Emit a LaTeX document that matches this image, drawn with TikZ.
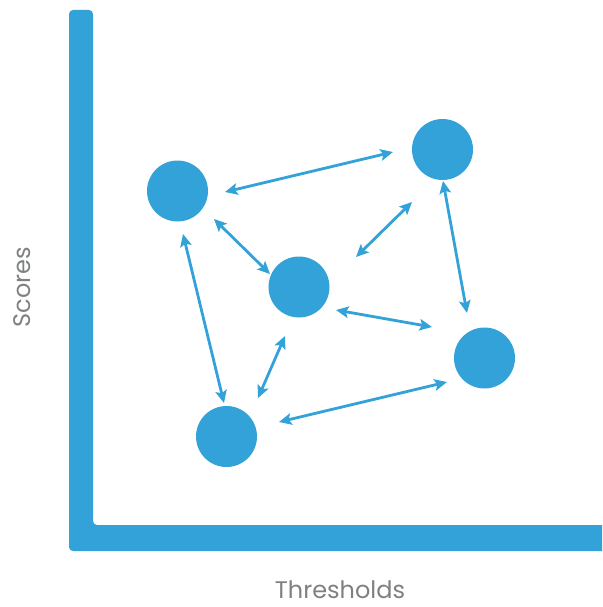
\documentclass[tikz,border=0pt]{standalone}
\usepackage{fontspec}
\setmainfont{Poppins}
\usetikzlibrary{arrows.meta,calc}
\definecolor{sblue}{HTML}{33A2D8}
\definecolor{lgray}{HTML}{7E8180}
\begin{document}
\begin{tikzpicture}[x=1pt,y=-1pt,
  dot/.style={circle,fill=sblue,minimum size=61pt,inner sep=0pt},
  arr/.style={draw=sblue,line width=2.8pt,{Stealth[length=12.5pt,width=11.5pt,inset=2.5pt]}-{Stealth[length=12.5pt,width=11.5pt,inset=2.5pt]}},
  lbl/.style={text=lgray,font=\fontsize{24}{28}\selectfont,inner sep=0pt}]
\useasboundingbox (0,0) rectangle (602,607);
\clip (0,0) rectangle (602,607);
% axes
\fill[sblue,rounded corners=4pt] (69,10) -- (93,10) -- (93,525) -- (620,525) -- (620,551) -- (69,551) -- cycle;
% nodes
\node[dot] (A) at (177.5,191) {};
\node[dot] (B) at (442.5,149.5) {};
\node[dot] (C) at (299,287) {};
\node[dot] (D) at (484.5,358) {};
\node[dot] (E) at (226.5,436.5) {};
% connectors
\draw[arr] ($(A)+(47.5,1)$) -- ($(B)+(-49.5,2.5)$);
\draw[arr] ($(A)+(36.5,28)$) -- ($(C)+(-29,-13)$);
\draw[arr] ($(A)+(5.5,43)$) -- ($(E)+(-2.5,-33.5)$);
\draw[arr] ($(B)+(-30.5,52.5)$) -- ($(C)+(57,-30)$);
\draw[arr] ($(B)+(0.5,31.5)$) -- ($(D)+(-17.5,-45)$);
\draw[arr] ($(C)+(37,23)$) -- ($(D)+(-52.5,-31)$);
\draw[arr] ($(C)+(-14,49)$) -- ($(E)+(31.5,-38.5)$);
\draw[arr] ($(E)+(52.5,-14.5)$) -- ($(D)+(-37.5,24)$);
% labels
\node[lbl,rotate=90] (ys) at (22,287) {Scores};
\node[lbl,anchor=base] (xs) at (340,598) {Thresholds};
\end{tikzpicture}
\end{document}
